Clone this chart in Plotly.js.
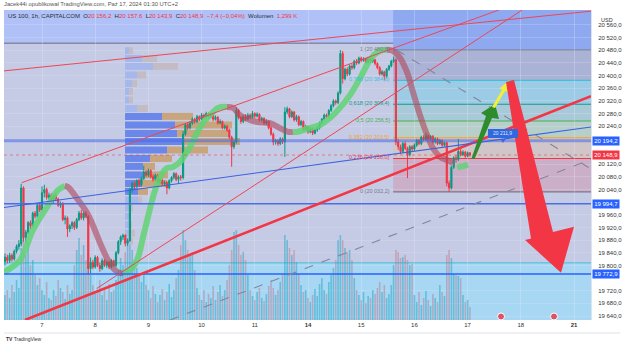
<!DOCTYPE html>
<html><head><meta charset="utf-8">
<script src="https://cdn.plot.ly/plotly-3.0.1.min.js"></script>
<style>html,body{margin:0;padding:0;background:#fff}#chart{width:625px;height:343px}</style>
</head><body><div id="chart"></div>
<script>
// ---------- DATA ----------
const dayLabels = ['7','8','9','10','11','<b>14</b>','15','16','17','18','<b>21</b>'];
const dayIdx = [0,23,46,69,92,115,138,161,184,207,230];
const priceTicks = [19640,19680,19720,19800,19840,19880,19920,19960,20040,20080,20120,20240,20280,20320,20360,20400,20440,20480,20520,20560];
const firstIdx = -16;
// hourly candles [open, high, low, close]
const ohlc = [
[19812,19838,19800,19826],[19826,19834,19806,19815],[19815,19840,19808,19832],[19832,19838,19812,19820],
[19820,19850,19815,19845],[19845,19866,19838,19860],[19860,19880,19850,19868],[19868,20058,19860,20045],
[20045,20050,19875,19888],[19888,19912,19870,19905],[19905,19940,19898,19935],[19935,19942,19915,19925],
[19925,19970,19920,19965],[19965,19972,19948,19955],[19955,19995,19950,19990],[19990,19998,19968,19975],
[19975,20050,19970,20030],[20030,20055,20015,20040],[20040,20046,20008,20015],[20015,20030,20005,20022],
[20022,20028,19998,20005],[20005,20025,19995,20020],[20020,20030,20002,20010],[20010,20014,19985,19990],
[19990,20002,19982,19996],[19996,20000,19940,19945],[19945,19958,19930,19950],[19950,19955,19890,19915],
[19915,19930,19905,19925],[19925,19940,19915,19935],[19935,19940,19912,19920],[19920,19950,19915,19945],
[19945,19972,19940,19965],[19965,19975,19944,19950],[19950,19970,19942,19965],[19965,19972,19950,19955],
[19955,19960,19772,19790],[19790,19825,19775,19810],[19810,19818,19788,19795],[19795,19832,19790,19825],
[19825,19830,19795,19800],[19800,19808,19780,19790],[19790,19822,19785,19815],[19815,19820,19795,19800],
[19800,19815,19792,19810],[19810,19814,19788,19795],[19795,19820,19790,19815],[19815,19818,19795,19800],
[19800,19845,19796,19840],[19840,19880,19835,19875],[19875,19895,19865,19890],[19890,19900,19880,19895],
[19895,19898,19860,19870],[19870,19885,19862,19878],[19878,20045,19875,20040],[20040,20065,20030,20060],
[20060,20066,20040,20050],[20050,20072,20045,20068],[20068,20074,20048,20055],[20055,20080,20050,20075],
[20075,20115,20070,20095],[20095,20102,20080,20085],[20085,20106,20080,20100],[20100,20104,20075,20080],
[20080,20088,20065,20072],[20072,20090,20068,20085],[20085,20088,20060,20065],[20065,20076,20058,20070],
[20070,20074,20052,20058],[20058,20068,20050,20062],[20062,20066,20025,20045],[20045,20072,20040,20068],
[20068,20082,20062,20078],[20078,20095,20072,20090],[20090,20094,20066,20072],[20072,20085,20060,20080],
[20080,20086,20068,20078],[20078,20225,20072,20215],[20215,20250,20210,20245],[20245,20252,20228,20235],
[20235,20256,20230,20250],[20250,20268,20244,20262],[20262,20266,20248,20255],[20255,20276,20250,20270],
[20270,20274,20256,20262],[20262,20282,20258,20275],[20275,20280,20262,20268],[20268,20286,20262,20280],
[20280,20284,20264,20270],[20270,20282,20265,20278],[20278,20280,20256,20262],[20262,20274,20258,20268],
[20268,20272,20245,20250],[20250,20262,20246,20255],[20255,20258,20230,20235],[20235,20246,20230,20240],
[20240,20244,20222,20228],[20228,20232,20200,20205],[20205,20210,20112,20175],[20175,20195,20168,20190],
[20190,20300,20185,20290],[20290,20295,20262,20268],[20268,20272,20248,20255],[20255,20276,20250,20270],
[20270,20278,20256,20262],[20262,20282,20258,20275],[20275,20280,20262,20268],[20268,20288,20264,20280],
[20280,20284,20266,20272],[20272,20284,20268,20278],[20278,20281,20255,20260],[20260,20270,20254,20265],
[20265,20268,20245,20250],[20250,20262,20244,20255],[20255,20258,20230,20235],[20235,20240,20210,20215],
[20215,20220,20180,20190],[20190,20200,20182,20195],[20195,20198,20178,20185],[20185,20205,20180,20200],
[20200,20204,20184,20190],[20190,20300,20143,20285],[20285,20302,20278,20295],[20295,20298,20265,20270],
[20270,20290,20266,20285],[20285,20288,20255,20260],[20260,20276,20254,20270],[20270,20274,20240,20245],
[20245,20260,20240,20255],[20255,20258,20225,20230],[20230,20244,20225,20238],[20238,20242,20216,20222],
[20222,20238,20218,20232],[20232,20235,20212,20218],[20218,20232,20214,20228],[20228,20240,20222,20235],
[20235,20255,20230,20250],[20250,20266,20246,20262],[20262,20280,20258,20275],[20275,20280,20264,20270],
[20270,20294,20266,20290],[20290,20310,20285,20305],[20305,20325,20300,20320],[20320,20324,20308,20315],
[20315,20350,20310,20345],[20345,20480.8,20340,20470],[20470,20478,20375,20390],[20390,20425,20385,20420],
[20420,20426,20398,20405],[20405,20435,20400,20430],[20430,20436,20418,20425],[20425,20450,20420,20445],
[20445,20452,20434,20440],[20440,20460,20436,20455],[20455,20460,20442,20448],[20448,20458,20444,20452],
[20452,20456,20436,20442],[20442,20460,20438,20455],[20455,20458,20440,20445],[20445,20456,20440,20450],
[20450,20453,20432,20438],[20438,20442,20420,20425],[20425,20430,20400,20405],[20405,20418,20400,20412],
[20412,20415,20385,20398],[20398,20424,20394,20420],[20420,20434,20415,20430],[20430,20450,20426,20445],
[20445,20460,20440,20450],[20450,20455,20180,20190],[20190,20200,20165,20175],[20175,20182,20152,20160],
[20160,20190,20155,20185],[20185,20192,20165,20170],[20170,20175,20076,20150],[20150,20180,20145,20175],
[20175,20180,20160,20168],[20168,20186,20162,20180],[20180,20200,20175,20195],[20195,20200,20180,20185],
[20185,20210,20180,20205],[20205,20212,20192,20198],[20198,20220,20194,20210],[20210,20215,20196,20200],
[20200,20212,20195,20208],[20208,20212,20185,20190],[20190,20205,20185,20200],[20200,20204,20180,20185],
[20185,20200,20182,20195],[20195,20198,20175,20180],[20180,20192,20176,20188],[20188,20192,20050,20060],
[20060,20068,20032.2,20045],[20045,20115,20040,20110],[20110,20145,20105,20140],[20140,20148,20125,20135],
[20135,20200,20130,20160],[20160,20168,20145,20150],[20150,20164,20146,20158],[20158,20162,20140,20145],
[20145,20160,20142,20156.2],[20156.2,20157.6,20143.9,20148.9]
];
// volume, thousands
const volume = [
2.5,3.0,2.2,3.5,2.8,4.0,3.2, 7.2,8.0,6.5,7.8,5.5,6.0,4.5,
3.5,4.2,3.0,2.5,3.8,2.2,2.0,3.0,2.4,4.0,3.2,2.8,2.1,3.5,2.6,3.0,
5.5,7.0,8.2,6.5,7.5,6.0,8.5, 4.5,3.5,2.8,3.0,4.0,2.5,3.2,2.0,3.6,2.8,3.0,
4.0,5.0,6.2,5.5,6.8,7.5,8.2,7.0,6.0,5.2,4.5,3.8,4.8,3.5,
3.0,2.2,3.4,2.6,1.8,2.5,3.1,2.0,2.8,3.6,2.3,3.0,4.2,5.0,
7.5,9.0,8.0,7.0,6.5,6.8,5.0,
3.2,2.5,2.0,3.0,1.8,2.6,2.2,3.4,2.0,2.8,3.5,2.4,3.0,4.0,5.5,7.0,
8.8,9.0,7.5,6.5,6.8,6.0,4.5,
3.0,2.4,2.0,2.8,3.2,2.2,1.9,2.6,3.4,4.0,3.2,2.5,3.0,3.8,4.6,
8.5,8.0,7.2,6.5,7.0,5.8,4.6,
3.5,2.8,3.0,2.2,1.8,2.5,3.1,2.4,3.6,4.2,3.0,2.6,3.8,4.5,5.2,6.0,
8.0,8.5,8.0,7.2,6.8,7.0,6.0,4.2,
3.0,2.5,2.0,2.8,1.7,2.4,2.2,3.0,2.6,3.2,3.8,2.8,3.5,2.2,2.6,3.5,
5.5,7.0,6.8,6.2,6.3,6.5,6.0,5.5,5.6,
2.5,1.8,2.8,1.5,2.2,2.9,2.0,1.4,2.6,2.2,1.8,3.5,2.8,2.4,
6.5,7.0,6.2,4.6,4.5,4.4,4.2,
2.5,1.8,2.0,1.299
];
// moving-average ribbon segments (candle index, price)
const maUpX1 = [-16.43,-9.5,-3.9,2.2,6.9,9.9];
const maUpY1 = [19779,19817,19912,19985,20038,20051];
const maDnX1 = [9.9,11.2,15.6,19.5,21.6,25.1,28.5,31.6,33.7,35.0];
const maDnY1 = [20051,20048,20007,19966,19934,19871,19817,19785,19776,19776];
const maUpX2 = [35.0,38.0,41.1,43.7,45.8,48.0,51.0,54.0,56.6,59.7,61.8,64.0,67.0,69.6,72.6,76.1,80.0];
const maUpY2 = [19776,19785,19817,19890,19953,20016,20079,20108,20111,20127,20149,20174,20219,20250,20275,20298,20301];
const maDnX2 = [80.0,82.6,85.6,89.9,93.4,98.6,102.9,106.4,108.5];
const maDnY2 = [20301,20298,20275,20260,20253,20250,20234,20222,20222];
const maUpX3 = [108.5,110.2,115.9,120.2,124.5,128.8,133.2,137.5,140.5,143.1,146.1,149.2];
const maUpY3 = [20222,20222,20234,20244,20266,20298,20339,20392,20434,20462,20479,20482];
const maDnX3 = [149.2,151.8,154.8,157.8,160.4,163.4,166.5,169.0,172.1,175.1,177.7];
const maDnY3 = [20482,20478,20456,20411,20348,20275,20212,20171,20143,20133,20124];
const maUpX4 = [179.5,182,184.2];
const maUpY4 = [20110,20114,20118];
// fixed-range volume profile
const profPrice = [20479,20454,20429,20402,20375,20350,20323,20296,20271,20244,20217,20192,20165,20138,20113,20086,20059,20034,20007,19981,19955,19929,19902,19877];
const profUp    = [4,17,28,12,7,4,4,12,37,50,52,58,42,25,18,18,17,13,13,6,4,5,6,5];
const profDown  = [4,15,25,9,5,4,4,11,31,57,53,57,41,22,12,25,25,10,4,2,2,2,4,3];
const profVA    = [0,0,0,0,0,0,0,0,1,1,1,1,1,1,1,1,1,1,0,0,0,0,0,0];
// fibonacci retracement
const fibLevels = ['1','0,786','0,618','0,5','0,382','0,236','0'];
const fibPrices = [20480.8,20384.8,20309.4,20256.5,20203.5,20138.0,20032.2];
const fibText = ['1 (20 480,8)','0,786 (20 384,8)','0,618 (20 309,4)','0,5 (20 256,5)','0,382 (20 203,5)','0,236 (20 138,0)','0 (20 032,2)'];
// horizontal levels
const hLevels = [20194.2,19994.7,19772.9];
const hLabels = ['20 194,2','19 994,7','19 772,9'];
const lastPrice = 20148.9, lastLabel = '20 148,9';
const zoneTop = 20502, zoneBottom = 19808;
// drawn trend lines: [idx0, price0, idx1, price1]
const redThin = [[-16.43,20414.9,237.35,20603.6],[-8.78,20061.4,197.5,20607.4],[23.65,19727,207.6,20607.4]];
const redThick = [-7.39,19627.4,237.35,20335];
const blueTrend = [-16.43,19983,237.35,20237.5];
const greyDashed = [[153.35,20480.9,237.35,20104.7],[55.35,19627.4,237.35,20134.8]];
// arrows (idx, price vertices)
const greenArrowX = [185.69,186.99,194.55,197.58,195.85,189.80,191.96];
const greenArrowY = [20137.9,20136.4,20266.0,20262.8,20310.3,20281.8,20272.3];
const yellowArrowX = [194.55,198.87,197.79,202.11,201.68,200.17,195.85];
const yellowArrowY = [20300.7,20354.5,20359.2,20386.1,20348.2,20351.3,20297.6];
const redArrowX = [200.60,204.06,220.92,230.0,224.38,208.82,211.42];
const redArrowY = [20379.8,20386.1,19905.6,19922.3,19776.9,19880.3,19885.4];
const targetBox = [192.8,20231.2,205.8,20202.8], targetText = '20 211,9';
const eventIdx = [198.45,221.36];

// ---------- BUILD ----------
const X0 = -16.43, X1 = 237.35, Y0 = 19627.4, Y1 = 20607.4;
const pxPerCandle = 2.313, profStart = 35.9;
const idx = ohlc.map((r,i)=>firstIdx+i);
const open = ohlc.map(r=>r[0]), high = ohlc.map(r=>r[1]), low = ohlc.map(r=>r[2]), close = ohlc.map(r=>r[3]);
const volColors = ohlc.map(r=> r[3]>=r[0] ? 'rgba(30,165,195,0.5)' : 'rgba(190,95,120,0.38)');

const traces = [];
traces.push({type:'bar', x:idx, y:volume, xaxis:'x', yaxis:'y', width:0.68,
  marker:{color:volColors, line:{width:0}}, hoverinfo:'skip', showlegend:false});
traces.push({type:'bar', orientation:'h', y:profPrice, x:profUp.map(v=>v/pxPerCandle), base:profStart,
  xaxis:'x', yaxis:'y2', width:22,
  marker:{color:profVA.map(v=>v?'#6b87e9':'#a6b7ec'), line:{width:0}}, hoverinfo:'skip', showlegend:false});
traces.push({type:'bar', orientation:'h', y:profPrice, x:profDown.map(v=>v/pxPerCandle),
  base:profUp.map(v=>profStart+v/pxPerCandle), xaxis:'x', yaxis:'y2', width:22,
  marker:{color:profVA.map(v=>v?'#c9a57d':'#c4bcc4'), line:{width:0}}, hoverinfo:'skip', showlegend:false});
traces.push({type:'candlestick', x:idx, open:open, high:high, low:low, close:close, xaxis:'x', yaxis:'y2',
  increasing:{line:{color:'#089981',width:1}, fillcolor:'#089981'},
  decreasing:{line:{color:'#f23645',width:1}, fillcolor:'#f23645'},
  whiskerwidth:0, hoverinfo:'skip', showlegend:false});
const maSegs = [[maUpX1,maUpY1,1],[maDnX1,maDnY1,0],[maUpX2,maUpY2,1],[maDnX2,maDnY2,0],[maUpX3,maUpY3,1],[maDnX3,maDnY3,0],[maUpX4,maUpY4,1]];
maSegs.forEach(s=>traces.push({type:'scatter', mode:'lines', x:s[0], y:s[1], xaxis:'x', yaxis:'y2',
  line:{color: s[2] ? 'rgba(95,212,115,0.85)' : 'rgba(176,72,92,0.62)', width:6, shape:'spline'},
  hoverinfo:'skip', showlegend:false}));
traces.push({type:'scatter', mode:'markers', x:eventIdx, y:[0.35,0.35], xaxis:'x', yaxis:'y',
  marker:{size:7, color:'#dc5366', line:{color:'#ffffff', width:1}}, hoverinfo:'skip', showlegend:false});
traces.push({type:'scatter', mode:'markers', x:[(targetBox[0]+targetBox[2])/2], y:[20196], xaxis:'x', yaxis:'y2',
  marker:{size:5, symbol:'triangle-down', color:'#2962ff'}, hoverinfo:'skip', showlegend:false});

const shapes = [];
const rectP = (y0,y1,fill)=>({type:'rect', xref:'paper', x0:0, x1:1, yref:'y2', y0:y0, y1:y1, fillcolor:fill, line:{width:0}, layer:'below'});
const rectX = (x0,y0,x1,y1,fill,layer)=>({type:'rect', xref:'x', yref:'y2', x0:x0, x1:x1, y0:y0, y1:y1, fillcolor:fill, line:{width:0}, layer:layer||'below'});
const seg = (a,color,width,dash,layer)=>({type:'line', xref:'x', yref:'y2', x0:a[0], y0:a[1], x1:a[2], y1:a[3], line:{color:color, width:width, dash:dash||'solid'}, layer:layer||'above'});
const path = (xs,ys,fill)=>({type:'path', xref:'x', yref:'y2', path:'M'+xs.map((x,i)=>x+','+ys[i]).join('L')+'Z', fillcolor:fill, line:{width:0}, layer:'above'});

shapes.push(rectP(zoneTop, Y1, '#afc1f6'));
shapes.push(rectP(Y0, zoneBottom, '#a7d7f2'));
const fibStart = 151.8;
const fibZoneColors = ['#aab2d5','#9ccbe6','#a7c9d8','#b6cfca','#d0c5c9','#cbafc9'];
shapes.push(rectX(fibStart, fibPrices[0], X1, Y1, '#8fa9f1'));
for (let i=0;i<6;i++) shapes.push(rectX(fibStart, fibPrices[i+1], X1, fibPrices[i], fibZoneColors[i]));
shapes.push({type:'line', xref:'paper', x0:0, x1:1, yref:'y2', y0:zoneTop, y1:zoneTop, line:{color:'#868aa6', width:1.5}, layer:'below'});
shapes.push({type:'line', xref:'paper', x0:0, x1:1, yref:'y2', y0:zoneBottom, y1:zoneBottom, line:{color:'#42bedb', width:1}, layer:'below'});
const fibColors = ['#787b86','#3cc0dc','#14998a','#4caf50','#f7a021','#f23645','#787b86'];
fibPrices.forEach((p,i)=>shapes.push(seg([fibStart,p,X1,p], fibColors[i], 1.2, 'solid', 'below')));

shapes.push({type:'line', xref:'paper', x0:0, x1:1, yref:'y2', y0:hLevels[0], y1:hLevels[0], line:{color:'rgba(70,105,235,0.55)', width:3}, layer:'above'});
shapes.push({type:'line', xref:'paper', x0:0, x1:1, yref:'y2', y0:hLevels[1], y1:hLevels[1], line:{color:'#4a6ee6', width:1.4}, layer:'above'});
shapes.push({type:'line', xref:'paper', x0:0, x1:1, yref:'y2', y0:hLevels[2], y1:hLevels[2], line:{color:'#2962ff', width:1.6}, layer:'above'});
shapes.push({type:'line', xref:'paper', x0:0, x1:1, yref:'y2', y0:lastPrice, y1:lastPrice, line:{color:'rgba(242,54,69,0.55)', width:1, dash:'dot'}, layer:'above'});
redThin.forEach(a=>shapes.push(seg(a,'#ee4656',1)));
shapes.push(seg(redThick,'#f23645',2.6));
shapes.push(seg(blueTrend,'#3b62e3',1.1));
greyDashed.forEach(a=>shapes.push(seg(a,'#84869a',1.1,'dash')));
shapes.push(path(greenArrowX, greenArrowY, '#2f8c2c'));
shapes.push(path(yellowArrowX, yellowArrowY, '#f2ef3c'));
shapes.push(path(redArrowX, redArrowY, '#f23645'));
shapes.push(rectX(targetBox[0], targetBox[3], targetBox[2], targetBox[1], '#3268de', 'above'));
// frame line under axis
shapes.push({type:'line', xref:'paper', yref:'paper', x0:0, x1:1.05, y0:-0.042, y1:-0.042, line:{color:'#e0e3eb', width:1}});

const font = 'Liberation Sans, Arial, sans-serif';
const ann = [];
fibText.forEach((t,i)=>ann.push({xref:'x', yref:'y2', x:fibStart-0.3, y:fibPrices[i], text:t, showarrow:false,
  xanchor:'right', yanchor:'middle', yshift:1, font:{family:font, size:5.5, color:fibColors[i]}}));
ann.push({xref:'x', yref:'y2', x:(targetBox[0]+targetBox[2])/2, y:(targetBox[1]+targetBox[3])/2, text:targetText,
  showarrow:false, font:{family:font, size:5, color:'#dfe6ff'}});
hLabels.forEach((t,i)=>ann.push({xref:'paper', yref:'y2', x:1, y:hLevels[i], xanchor:'left', xshift:1, text:t,
  showarrow:false, bgcolor:'#2962ff', borderpad:1.2, font:{family:font, size:6, color:'#ffffff'}}));
ann.push({xref:'paper', yref:'y2', x:1, y:lastPrice, xanchor:'left', xshift:1, text:lastLabel,
  showarrow:false, bgcolor:'#f23645', borderpad:1.2, font:{family:font, size:6, color:'#ffffff'}});
ann.push({xref:'paper', yref:'paper', x:1, y:0.984, xanchor:'left', xshift:8, text:'USD', showarrow:false,
  font:{family:font, size:5.5, color:'#333'}});
ann.push({xref:'paper', yref:'paper', x:0, y:1.02, xanchor:'left', yanchor:'middle', xshift:-2, showarrow:false,
  text:'Jacek44i opublikował TradingView.com, Paź 17, 2024 01:30 UTC+2', font:{family:font, size:5.8, color:'#555'}});
const r = s=>'<span style="color:#f23645">'+s+'</span>';
ann.push({xref:'paper', yref:'paper', x:0, y:0.982, xanchor:'left', yanchor:'middle', xshift:2, showarrow:false,
  text:'US 100, 1h, CAPITALCOM  O'+r('20 156,2')+'  H'+r('20 157,6')+'  L'+r('20 143,9')+'  C'+r('20 148,9')+'  '+r('−7,4 (−0,04%)')+'  Wolumen  '+r('1,299 K'),
  font:{family:font, size:6, color:'#2a2e39'}});
ann.push({xref:'paper', yref:'paper', x:0, y:-0.06, xanchor:'left', yanchor:'middle', showarrow:false,
  text:'<b>TV</b> TradingView', font:{family:font, size:5, color:'#333'}});

const layout = {
  width:625, height:343, margin:{l:4, r:34, t:10, b:23},
  paper_bgcolor:'#ffffff', plot_bgcolor:'#c5cbe4', separators:', ',
  barmode:'overlay', showlegend:false, dragmode:false,
  xaxis:{range:[X0,X1], tickvals:dayIdx, ticktext:dayLabels, showgrid:true, gridcolor:'rgba(235,238,250,0.28)', gridwidth:1,
    zeroline:false, showline:false, ticks:'', tickfont:{family:font, size:6, color:'#333'}, rangeslider:{visible:false}, fixedrange:true},
  yaxis:{range:[0,31], visible:false, showgrid:false, zeroline:false, fixedrange:true},
  yaxis2:{overlaying:'y', side:'right', range:[Y0,Y1], tickvals:priceTicks, tickformat:',.1f', showgrid:true,
    gridcolor:'rgba(235,238,250,0.22)', zeroline:false, showline:true, linecolor:'#e0e3eb', ticks:'', ticklabelstandoff:5,
    tickfont:{family:font, size:6, color:'#333'}, fixedrange:true},
  shapes:shapes, annotations:ann
};
Plotly.newPlot('chart', traces, layout, {staticPlot:true, displayModeBar:false});
</script></body></html>
